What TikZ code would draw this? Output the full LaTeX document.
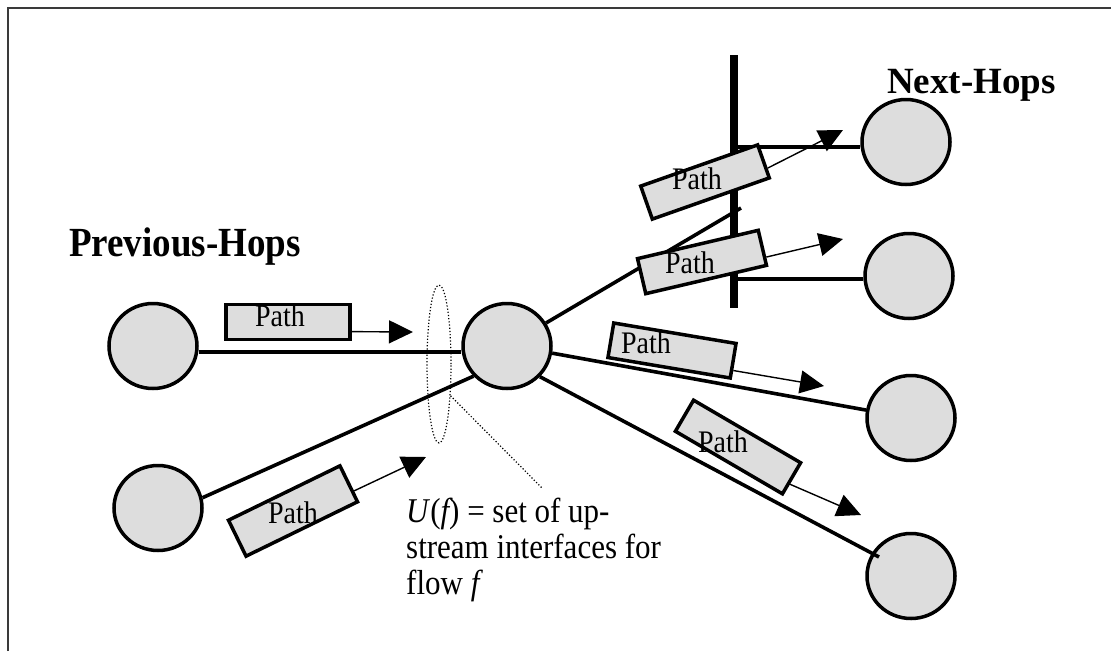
\documentclass[tikz,border=0pt]{standalone}
\usepackage{fontspec}
\setmainfont{Liberation Serif}
\usetikzlibrary{arrows.meta,shapes.geometric,calc}
\definecolor{nodegray}{HTML}{DDDDDD}
\definecolor{framegray}{HTML}{3A3A3A}
\newcommand{\talltxt}[1]{\scalebox{1}[1.12]{#1}}
\begin{document}
\begin{tikzpicture}[x=1pt,y=-1pt,
  hop/.style={ellipse,draw=black,fill=nodegray,line width=3.5pt,minimum width=88pt,minimum height=85pt,inner sep=0pt},
  link/.style={line width=3.6pt},
  pbox/.style={rectangle,draw=black,fill=nodegray,line width=3.5pt,minimum width=124pt,minimum height=35pt,inner sep=0pt},
  plabel/.style={font=\fontsize{28}{30}\selectfont,anchor=base,inner sep=0pt},
  flowarrow/.style={line width=1.4pt,-{Triangle[length=24pt,width=23pt]}},
  heading/.style={font=\bfseries\fontsize{37}{40}\selectfont,anchor=base west,inner sep=0pt},
  note/.style={font=\fontsize{31}{35}\selectfont,anchor=base west,inner sep=0pt},
  bar/.style={line width=8pt},
  framestyle/.style={draw=framegray,line width=2pt},
  upset/.style={ellipse,draw=black,dotted,line width=1.2pt,minimum width=24pt,minimum height=158pt,inner sep=0pt},
  leader/.style={dotted,line width=1.2pt}
]
\useasboundingbox (0,0) rectangle (1111,651);
% frame
\coordinate (fbl) at (8,651);
\coordinate (ftl) at (8,8);
\coordinate (ftr) at (1111,8);
\draw[framestyle] (fbl) -- (ftl) -- (ftr);

% vertical bar
\coordinate (bartop) at (734,55);
\coordinate (barbot) at (734,308);
\draw[bar] (bartop) -- (barbot);

% hops
\node[hop] (l1) at (153,346) {};
\node[hop] (l2) at (158,508) {};
\node[hop] (c)  at (507,346) {};
\node[hop] (r1) at (906,142) {};
\node[hop] (r2) at (909,276) {};
\node[hop] (r3) at (911,418) {};
\node[hop] (r4) at (911,576) {};

% links
\coordinate (ly) at (0,352);
\coordinate (h1) at (734,147);
\coordinate (h2) at (734,279);
\coordinate (tick) at (741,208);
\coordinate (r4in) at (879,557);
\draw[link] (l1.east |- ly) -- (c.west |- ly);
\draw[link] (l2.13) -- (c.222);
\draw[link] (c) -- (tick);
\draw[link] (h1) -- (h1 -| r1.west);
\draw[link] (h2) -- (h2 -| r2.west);
\draw[link] (c.-9) -- (r3.170);
\draw[link] (c.-43) -- (r4in);

% upstream set
\node[upset] (u) at (439,364) {};
\coordinate (ld) at (542,488);
\draw[leader] (u.-70) -- (ld);

% path boxes
\node[pbox] (b1) at (288,322) {};
\node[pbox,rotate=26,minimum height=40pt] (b2) at (293,511) {};
\node[pbox,rotate=19.4] (b3) at (705,182) {};
\node[pbox,rotate=13.2,minimum height=36pt] (b4) at (702,262) {};
\node[pbox,rotate=-9.5] (b5) at (672,350.5) {};
\node[pbox,rotate=-30.3,minimum height=36pt] (b6) at (738,447) {};

\node[plabel] (t1) at (280,326) {\talltxt{Path}};
\node[plabel] (t2) at (293,523) {\talltxt{Path}};
\node[plabel] (t3) at (697,189) {\talltxt{Path}};
\node[plabel] (t4) at (690,273) {\talltxt{Path}};
\node[plabel] (t5) at (646,353) {\talltxt{Path}};
\node[plabel] (t6) at (723,452) {\talltxt{Path}};

% arrows
\coordinate (a1) at (413,332);
\coordinate (a2) at (426,457);
\coordinate (a3) at (843,130);
\coordinate (a4) at (843,239);
\coordinate (a5) at (824,386);
\coordinate (a6) at (861,515);
\draw[flowarrow] ($(b1.east)!0.5!(b1.south east)$) -- (a1);
\draw[flowarrow] ($(b2.east)!0.4!(b2.south east)$) -- (a2);
\draw[flowarrow] ($(b3.east)!0.4!(b3.south east)$) -- (a3);
\draw[flowarrow] ($(b4.east)!0.5!(b4.south east)$) -- (a4);
\draw[flowarrow] ($(b5.east)!0.5!(b5.south east)$) -- (a5);
\draw[flowarrow] ($(b6.east)!0.3!(b6.south east)$) -- (a6);

% headings
\node[heading] (prev) at (69,256) {\talltxt{Previous-Hops}};
\node[heading] (next) at (887,93) {Next-Hops};

% note
\node[note] (n1) at (406,522) {\talltxt{\textit{U}({\itshape f}) = set of up-}};
\node[note] (n2) at (406,558) {\talltxt{stream interfaces for}};
\node[note] (n3) at (406,594) {\talltxt{flow {\itshape f}}};
\end{tikzpicture}
\end{document}
